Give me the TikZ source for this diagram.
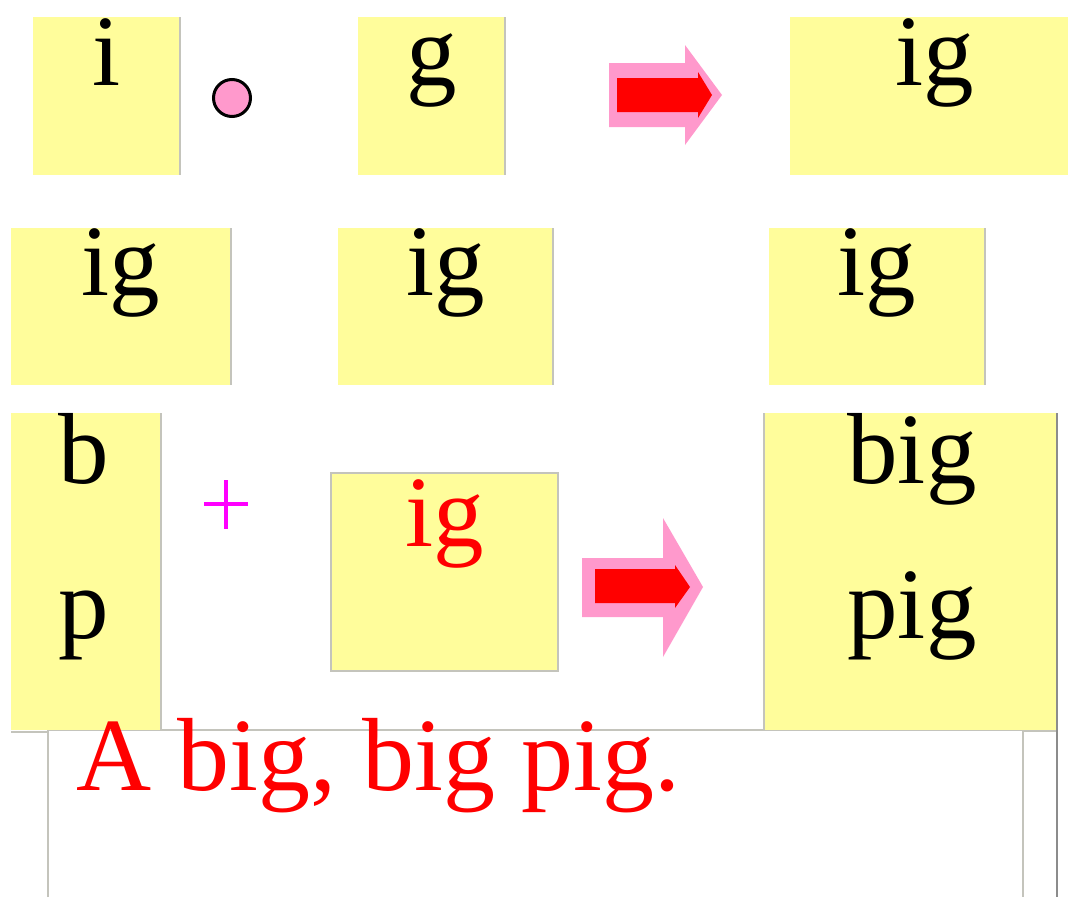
\documentclass[tikz,border=0pt]{standalone}
\usepackage{fontspec}
\setmainfont{Liberation Serif}
\definecolor{ylw}{HTML}{FFFD9B}
\definecolor{pnk}{HTML}{FF99CC}
\definecolor{edgegray}{HTML}{C4C4BC}
\definecolor{darkedge}{HTML}{8C8C8C}
\definecolor{mag}{HTML}{FF00FF}
\begin{document}
\begin{tikzpicture}[x=1pt,y=-1pt,
  ybox/.style={fill=ylw, draw=none, inner sep=0pt, outer sep=0pt, anchor=north west},
  bigtxt/.style={font=\fontsize{101}{120}\selectfont, inner sep=0pt, anchor=base},
  redge/.style={draw=edgegray, line width=1.5pt},
  thinline/.style={draw=edgegray, line width=1.5pt},
  outerarrow/.style={fill=pnk, draw=none},
  innerarrow/.style={fill=red, draw=none}]
\useasboundingbox (0,0) rectangle (1068,897);

% bottom frame lines
\draw[thinline] (11,732) -- (48,732);
\draw[thinline] (48,897) -- (48,730) -- (1023,730) -- (1023,897);
\draw[thinline] (1023,731) -- (1057,731);

% boxes
\node[ybox, minimum width=147pt, minimum height=158pt] (bi) at (33,17) {};
\node[ybox, minimum width=147pt, minimum height=158pt] (bg) at (358,17) {};
\node[ybox, minimum width=290pt, minimum height=158pt] (bigone) at (790,17) {};
\node[ybox, minimum width=220pt, minimum height=157pt] (ra) at (11,228) {};
\node[ybox, minimum width=215pt, minimum height=157pt] (rb) at (338,228) {};
\node[ybox, minimum width=216pt, minimum height=157pt] (rc) at (769,228) {};
\node[ybox, minimum width=150pt, minimum height=317pt] (bp) at (11,413) {};
\node[ybox, minimum width=227pt, minimum height=198pt, draw=edgegray, line width=1.5pt] (rig) at (331,473) {};
\node[ybox, minimum width=293pt, minimum height=317pt] (bpig) at (764,413) {};

% right edges
\foreach \n in {bi,bg,ra,rb,rc,bp}{
  \draw[redge] (\n.north east) -- (\n.south east);
}
\coordinate (rbot) at (1057,897);
\draw[draw=darkedge, line width=2pt] (bpig.north east) -- (rbot);
\draw[redge] (bpig.north west) -- (bpig.south west);

% texts
\node[bigtxt] (ti) at (107,85) {i};
\node[bigtxt] (tg) at (432,85) {g};
\node[bigtxt] (tig1) at (935,85) {ig};
\node[bigtxt] (tig2) at (121,295) {ig};
\node[bigtxt] (tig3) at (446,295) {ig};
\node[bigtxt] (tig4) at (877,295) {ig};
\node[bigtxt] (tb) at (84,483) {b};
\node[bigtxt] (tp) at (84,638) {p};
\node[bigtxt, text=red] (tigred) at (445,546) {ig};
\node[bigtxt] (tbig) at (912,483) {big};
\node[bigtxt] (tpig) at (912,638) {pig};
\node[bigtxt, font=\fontsize{104}{120}\selectfont, anchor=base west, text=red] (sentence) at (76,790) {A big, big pig.};

% composition dot
\node[circle, fill=pnk, draw=black, line width=3pt, minimum size=37pt, inner sep=0pt] (dot) at (232,98) {};

% plus sign
\coordinate (plusc) at (226,504);
\draw[mag, line width=3.5pt] ([xshift=-22pt]plusc) -- ([xshift=22pt]plusc);
\draw[mag, line width=3.5pt] ([yshift=24pt]plusc) -- ([yshift=-25pt]plusc);

% arrow 1
\fill[outerarrow] (609,63) -- (685,63) -- (685,45) -- (722,95) -- (685,145) -- (685,127) -- (609,127) -- cycle;
\fill[innerarrow] (617,78) -- (698,78) -- (698,72) -- (712,95) -- (698,118) -- (698,112) -- (617,112) -- cycle;

% arrow 2
\fill[outerarrow] (582,558) -- (663,558) -- (663,518) -- (703,587) -- (663,657) -- (663,617) -- (582,617) -- cycle;
\fill[innerarrow] (595,569) -- (675,569) -- (675,565) -- (690,587) -- (675,608) -- (675,603) -- (595,603) -- cycle;
\end{tikzpicture}
\end{document}
